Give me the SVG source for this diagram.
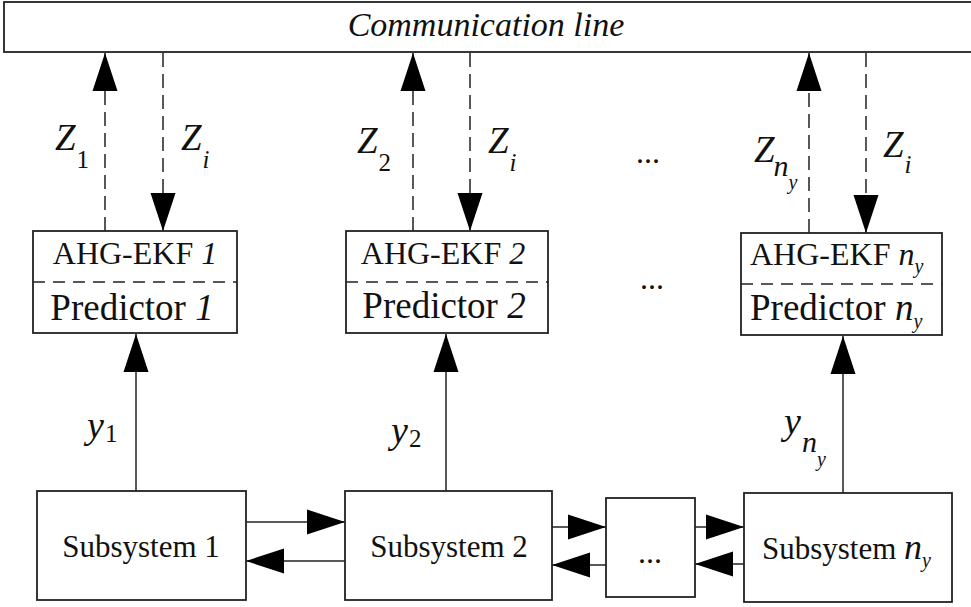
<svg xmlns="http://www.w3.org/2000/svg" width="971" height="607" viewBox="0 0 971 607" font-family="Liberation Serif, Times New Roman, serif">
<style>
.box{fill:#fff;stroke:#222;stroke-width:1.8}
.div{stroke:#222;stroke-width:1.5;stroke-dasharray:12 8;fill:none}
.sol{stroke:#222;stroke-width:1.5;fill:none}
.dash{stroke:#222;stroke-width:1.5;stroke-dasharray:14 7;fill:none}
.t{fill:#111}
.it{font-style:italic}
</style>
<defs>
<marker id="ah" markerUnits="userSpaceOnUse" markerWidth="40" markerHeight="26" refX="38" refY="12.5" orient="auto" overflow="visible">
<path d="M0,0 L38,12.5 L0,25 Z" fill="#000" stroke="none"/>
</marker>
</defs>
<rect width="971" height="607" fill="#fff"/>

<g id="comm">
<rect class="box" x="4" y="2" width="980" height="50" stroke-width="2"/>
<text class="t it" x="486" y="36" font-size="34" text-anchor="middle">Communication line</text>
</g>

<g id="connectors">
<line class="dash" x1="105" y1="231" x2="105" y2="53" marker-end="url(#ah)"/>
<line class="dash" x1="163" y1="53" x2="163" y2="231" marker-end="url(#ah)"/>
<line class="dash" x1="413" y1="231" x2="413" y2="53" marker-end="url(#ah)"/>
<line class="dash" x1="470" y1="53" x2="470" y2="231" marker-end="url(#ah)"/>
<line class="dash" x1="809" y1="233" x2="809" y2="53" marker-end="url(#ah)"/>
<line class="dash" x1="866" y1="53" x2="866" y2="233" marker-end="url(#ah)"/>
<line class="sol" x1="136" y1="491" x2="136" y2="334" marker-end="url(#ah)"/>
<line class="sol" x1="446" y1="491" x2="446" y2="334" marker-end="url(#ah)"/>
<line class="sol" x1="843" y1="493" x2="843" y2="336" marker-end="url(#ah)"/>
<line class="sol" x1="246" y1="522" x2="345" y2="522" marker-end="url(#ah)"/>
<line class="sol" x1="345" y1="561" x2="246" y2="561" marker-end="url(#ah)"/>
<line class="sol" x1="552" y1="527" x2="606" y2="527" marker-end="url(#ah)"/>
<line class="sol" x1="606" y1="565" x2="552" y2="565" marker-end="url(#ah)"/>
<line class="sol" x1="695" y1="527" x2="744" y2="527" marker-end="url(#ah)"/>
<line class="sol" x1="744" y1="564" x2="695" y2="564" marker-end="url(#ah)"/>
</g>

<g id="labels">
<text class="t it" font-size="37" x="55" y="150">Z<tspan font-style="normal" font-size="25" dx="1" dy="18">1</tspan></text>
<text class="t it" font-size="37" x="181" y="150">Z<tspan font-size="25" dx="1" dy="18">i</tspan></text>
<text class="t it" font-size="37" x="357" y="153">Z<tspan font-style="normal" font-size="25" dx="1" dy="18">2</tspan></text>
<text class="t it" font-size="37" x="488" y="153">Z<tspan font-size="25" dx="1" dy="18">i</tspan></text>
<text class="t it" font-size="37" x="754" y="162">Z<tspan font-size="30" dx="-1" dy="14">n</tspan><tspan font-size="20" dx="0" dy="13">y</tspan></text>
<text class="t it" font-size="37" x="883" y="157">Z<tspan font-size="25" dx="1" dy="16">i</tspan></text>
<text class="t" font-size="32" x="648" y="163" text-anchor="middle">...</text>
<text class="t" font-size="32" x="652" y="289" text-anchor="middle">...</text>
<text class="t it" font-size="38" x="87" y="438">y<tspan font-style="normal" font-size="25" dx="1" dy="4">1</tspan></text>
<text class="t it" font-size="38" x="391" y="443">y<tspan font-style="normal" font-size="25" dx="1" dy="4">2</tspan></text>
<text class="t it" font-size="38" x="784" y="434">y<tspan font-size="30" dx="1" dy="18">n</tspan><tspan font-size="20" dx="0" dy="14">y</tspan></text>
</g>

<g id="ekf1">
<rect class="box" x="33" y="231" width="204" height="102"/>
<line class="div" x1="33" y1="282" x2="237" y2="282"/>
<text class="t" font-size="32" x="135" y="264" text-anchor="middle">AHG-EKF <tspan class="it">1</tspan></text>
<text class="t" font-size="37" x="132" y="320" text-anchor="middle">Predictor <tspan class="it">1</tspan></text>
</g>

<g id="ekf2">
<rect class="box" x="346" y="231" width="202" height="102"/>
<line class="div" x1="346" y1="282" x2="548" y2="282"/>
<text class="t" font-size="32" x="443" y="264" text-anchor="middle">AHG-EKF <tspan class="it">2</tspan></text>
<text class="t" font-size="37" x="444" y="318" text-anchor="middle">Predictor <tspan class="it">2</tspan></text>
</g>

<g id="ekf3">
<rect class="box" x="741" y="233" width="201" height="102"/>
<line class="div" x1="741" y1="284" x2="942" y2="284"/>
<text class="t" font-size="32" x="750" y="265">AHG-EKF <tspan class="it">n</tspan><tspan class="it" font-size="20" dy="8">y</tspan></text>
<text class="t" font-size="37" x="750" y="320">Predictor <tspan class="it">n</tspan><tspan class="it" font-size="20" dy="8">y</tspan></text>
</g>

<g id="sub1">
<rect class="box" x="37" y="491" width="209" height="109"/>
<text class="t" font-size="31" x="141" y="557" text-anchor="middle">Subsystem 1</text>
</g>
<g id="sub2">
<rect class="box" x="345" y="491" width="207" height="109"/>
<text class="t" font-size="31" x="449" y="557" text-anchor="middle">Subsystem 2</text>
</g>
<g id="subdots">
<rect class="box" x="606" y="498" width="89" height="99"/>
<text class="t" font-size="32" x="650" y="563" text-anchor="middle">...</text>
</g>
<g id="sub3">
<rect class="box" x="744" y="493" width="208" height="109"/>
<text class="t" font-size="31" x="762" y="559">Subsystem <tspan class="it" font-size="36">n</tspan><tspan class="it" font-size="20" dy="8">y</tspan></text>
</g>
</svg>
